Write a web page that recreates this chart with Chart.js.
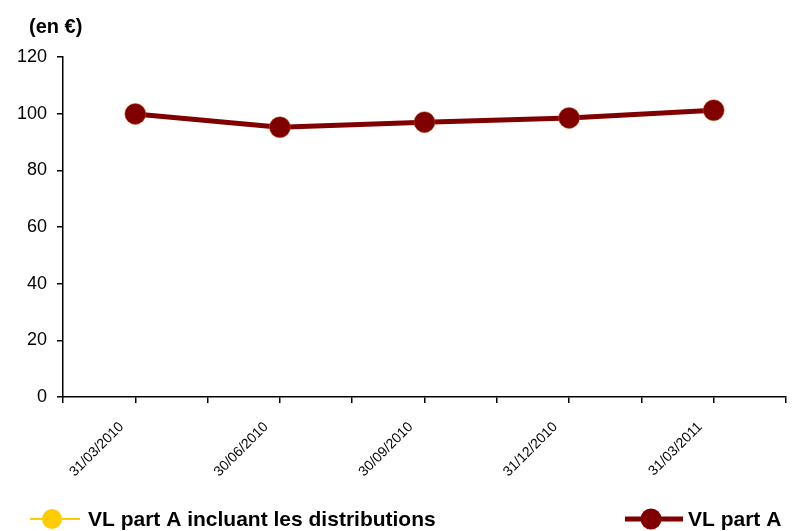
<!DOCTYPE html>
<html>
<head>
<meta charset="utf-8">
<script src="https://cdn.jsdelivr.net/npm/chart.js@4"></script>
<style>
  html, body { margin: 0; padding: 0; background: #fff; }
  #wrap { width: 797px; height: 531px; position: relative; }
</style>
</head>
<body>
<div id="wrap"><canvas id="chart-vl"></canvas></div>
<script>
// Données
const dates = ['31/03/2010', '30/06/2010', '30/09/2010', '31/12/2010', '31/03/2011'];
const vlDistrib = [99.9, 95.2, 97.0, 98.5, 101.2];
const vlPartA = [99.9, 95.2, 97.0, 98.5, 101.2];
const yTicks = [0, 20, 40, 60, 80, 100, 120];

const FONT = '"Liberation Sans", Arial, sans-serif';

// chaque date au centre d'une case (x = 1, 3, 5 ...)
const toPoints = vals => vals.map((v, i) => ({ x: i * 2 + 1, y: v }));

// titre "(en €)" + légende en bas
const decorPlugin = {
    id: 'decor',
    afterDraw: (chart) => {
        const ctx = chart.ctx;
        ctx.save();
        ctx.fillStyle = '#000';
        ctx.font = 'bold 20px ' + FONT;
        ctx.textBaseline = 'middle';
        ctx.fillText('(en €)', 29, 27);

        const items = [
            { ds: chart.data.datasets[0], x: 30, w: 50, m: 22, t: 58 },
            { ds: chart.data.datasets[1], x: 625, w: 58, m: 26, t: 63 }
        ];
        const y = 519;
        items.forEach(it => {
            ctx.strokeStyle = it.ds.borderColor;
            ctx.lineWidth = it.ds.borderWidth;
            ctx.beginPath();
            ctx.moveTo(it.x, y);
            ctx.lineTo(it.x + it.w, y);
            ctx.stroke();
            ctx.fillStyle = it.ds.pointBackgroundColor;
            ctx.beginPath();
            ctx.arc(it.x + it.m, y, it.ds.pointRadius, 0, Math.PI * 2);
            ctx.fill();
            ctx.fillStyle = '#000';
            ctx.font = 'bold 21px ' + FONT;
            ctx.fillText(it.ds.label, it.x + it.t, y + 1);
        });
        ctx.restore();
    }
};

new Chart(document.getElementById('chart-vl'), {
    type: 'line',
    data: {
        datasets: [
            {
                label: 'VL part A incluant les distributions',
                data: toPoints(vlDistrib),
                borderColor: '#FFCC00',
                backgroundColor: '#FFCC00',
                pointBackgroundColor: '#FFCC00',
                borderWidth: 2,
                pointRadius: 10,
                pointBorderWidth: 0,
                order: 2
            },
            {
                label: 'VL part A',
                data: toPoints(vlPartA),
                borderColor: '#800000',
                backgroundColor: '#800000',
                pointBackgroundColor: '#800000',
                pointBorderColor: '#B85A1A',
                pointBorderWidth: 0.5,
                borderWidth: 5,
                pointRadius: 10.5,
                order: 1
            }
        ]
    },
    plugins: [decorPlugin],
    options: {
        responsive: true,
        maintainAspectRatio: false,
        animation: false,
        layout: { padding: { top: 57, right: 9, left: 0, bottom: 0 } },
        plugins: {
            legend: { display: false },
            tooltip: { enabled: false }
        },
        scales: {
            x: {
                type: 'linear',
                min: 0,
                max: 10,
                afterBuildTicks: (axis) => {
                    axis.ticks = Array.from({ length: 11 }, (_, i) => ({ value: i }));
                },
                ticks: {
                    autoSkip: false,
                    maxRotation: 45,
                    minRotation: 45,
                    color: '#000',
                    font: { family: FONT, size: 14 },
                    padding: 2,
                    // espaces en fin pour décaler le texte comme sur l'original
                    callback: (v) => (v % 2 === 1 ? dates[(v - 1) / 2] + '     ' : '')
                },
                grid: { drawOnChartArea: false, drawTicks: true, tickLength: 6, color: '#000', lineWidth: 1.5 },
                border: { color: '#000', width: 1.5 },
                afterFit: (axis) => {
                    axis.height = 134;
                    axis.paddingRight = 0;
                }
            },
            y: {
                min: 0,
                max: 120,
                afterBuildTicks: (axis) => {
                    axis.ticks = yTicks.map(v => ({ value: v }));
                },
                ticks: {
                    color: '#000',
                    font: { family: FONT, size: 18 },
                    padding: 10
                },
                grid: { drawOnChartArea: false, drawTicks: true, tickLength: 6, color: '#000', lineWidth: 1.5 },
                border: { color: '#000', width: 1.5 },
                afterFit: (axis) => { axis.width = 63; }
            }
        }
    }
});
</script>
</body>
</html>
